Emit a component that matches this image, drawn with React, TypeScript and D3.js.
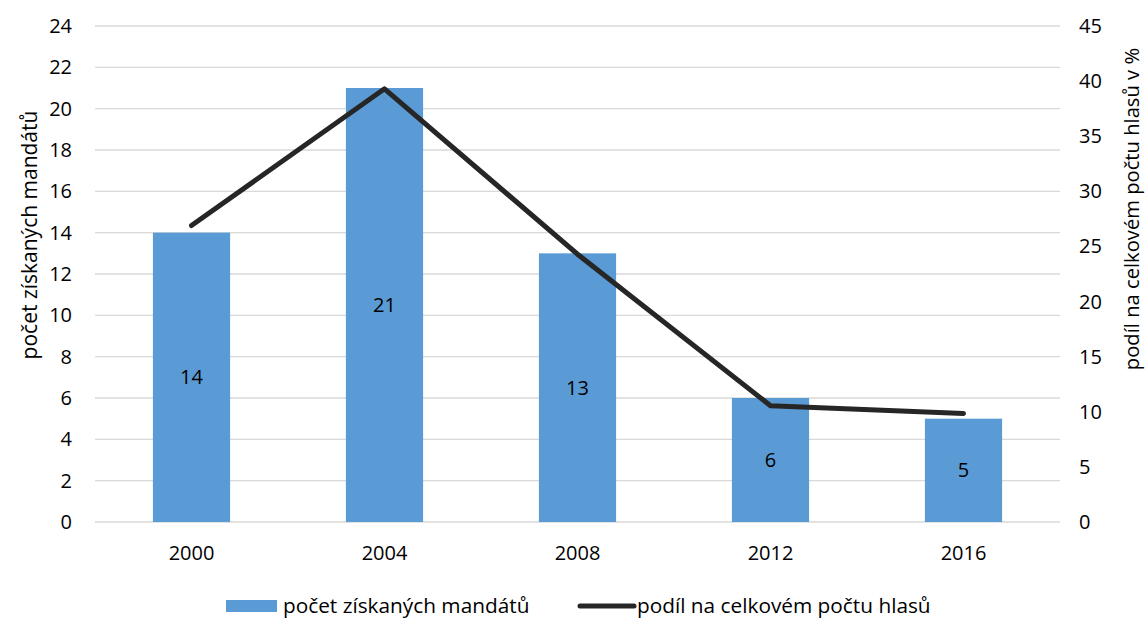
import React from "react";
import * as d3 from "d3";

const years = ["2000", "2004", "2008", "2012", "2016"];
const mandates = [14, 21, 13, 6, 5];
const voteShare = [26.9, 39.3, 24.3, 10.55, 9.85];
const leftTicks = [0, 2, 4, 6, 8, 10, 12, 14, 16, 18, 20, 22, 24];
const rightTicks = [0, 5, 10, 15, 20, 25, 30, 35, 40, 45];
const barName = "počet získaných mandátů";
const lineName = "podíl na celkovém počtu hlasů";
const leftTitle = "počet získaných mandátů";
const rightTitle = "podíl na celkovém počtu hlasů v %";

const W = 1145, H = 618;
const plot = { l: 95, r: 1060, t: 26, b: 522 };
const font = "'Open Sans', Lato, sans-serif";
const barColor = "#5B9BD5";
const lineColor = "#262626";
const gridColor = "#D9D9D9";
const textColor = "#000";
const fs = 20;

export default function App() {
  const x = d3.scaleBand<string>().domain(years).range([plot.l, plot.r]).paddingInner(0.6).paddingOuter(0.3);
  const yL = d3.scaleLinear().domain([0, 24]).range([plot.b, plot.t]);
  const yR = d3.scaleLinear().domain([0, 45]).range([plot.b, plot.t]);
  const cx = (y: string) => (x(y) as number) + x.bandwidth() / 2;
  const line = d3.line<number>().x((_, i) => cx(years[i])).y((v) => yR(v));

  return (
    <svg width={W} height={H} style={{ position: "absolute", left: 0, top: 0, background: "#fff" }} fontFamily={font}>
      {leftTicks.map((t) => (
        <line key={"g" + t} x1={plot.l} x2={plot.r} y1={yL(t)} y2={yL(t)} stroke={gridColor} strokeWidth={1.3} />
      ))}
      {leftTicks.map((t) => (
        <text key={"l" + t} x={72} y={yL(t)} dy="0.35em" textAnchor="end" fontSize={fs} fill={textColor}>{t}</text>
      ))}
      {rightTicks.map((t) => (
        <text key={"r" + t} x={1079} y={yR(t)} dy="0.35em" textAnchor="start" fontSize={fs} fill={textColor}>{t}</text>
      ))}
      {years.map((y, i) => (
        <rect key={"b" + y} x={x(y)} y={yL(mandates[i])} width={x.bandwidth()} height={plot.b - yL(mandates[i])} fill={barColor} />
      ))}
      {years.map((y, i) => (
        <text key={"v" + y} x={cx(y)} y={yL(mandates[i] / 2)} dy="0.35em" textAnchor="middle" fontSize={fs} fill={textColor}>{mandates[i]}</text>
      ))}
      <path d={line(voteShare) || ""} fill="none" stroke={lineColor} strokeWidth={5} strokeLinecap="round" strokeLinejoin="round" />
      {years.map((y) => (
        <text key={"x" + y} x={cx(y)} y={553} dy="0.35em" textAnchor="middle" fontSize={fs} fill={textColor}>{y}</text>
      ))}
      <text transform={`translate(30,${235}) rotate(-90)`} textAnchor="middle" dy="0.35em" fontSize={21} fill={textColor}>{leftTitle}</text>
      <text transform={`translate(1132,${209}) rotate(-90)`} textAnchor="middle" dy="0.35em" fontSize={20.2} fill={textColor}>{rightTitle}</text>
      <rect x={226} y={600} width={51} height={12} fill={barColor} />
      <text x={283} y={606} dy="0.35em" fontSize={20.8} fill={textColor}>{barName}</text>
      <line x1={580} x2={634} y1={606} y2={606} stroke={lineColor} strokeWidth={5} strokeLinecap="round" />
      <text x={637} y={606} dy="0.35em" fontSize={20.8} fill={textColor}>{lineName}</text>
    </svg>
  );
}
